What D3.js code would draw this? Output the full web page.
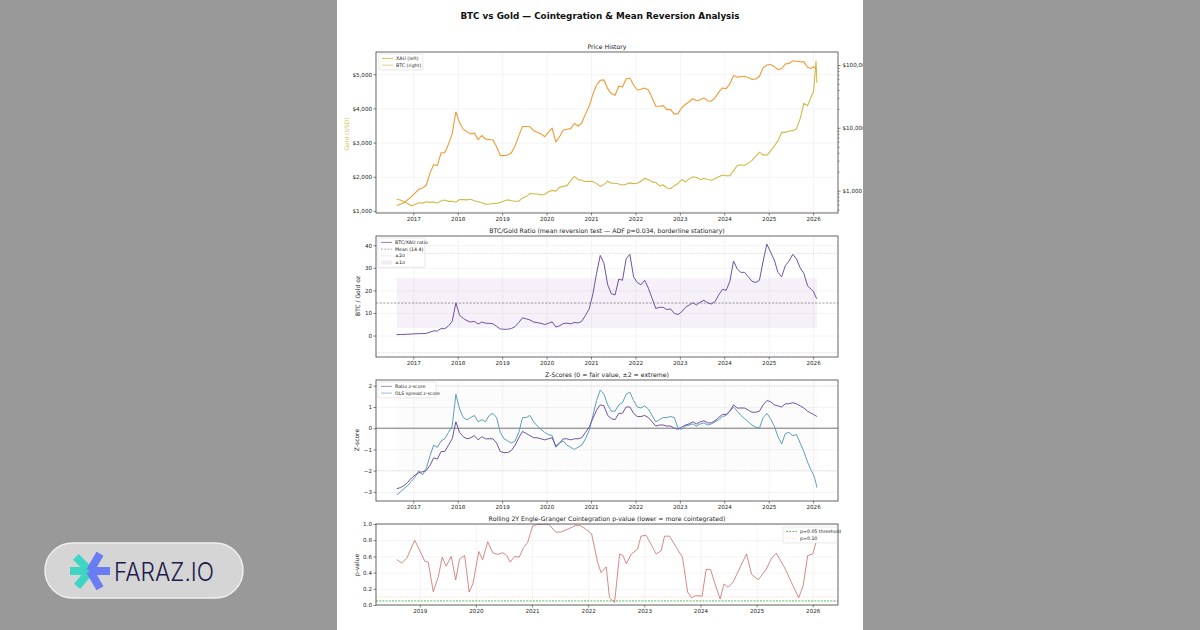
<!DOCTYPE html>
<html>
<head>
<meta charset="utf-8">
<script src="https://cdn.jsdelivr.net/npm/d3@7"></script>
<style>
  body { margin: 0; background: #999; width: 1200px; height: 630px; overflow: hidden; }
  svg { font-family: "DejaVu Sans", sans-serif; }
</style>
</head>
<body>
<svg id="chart" width="1200" height="630"></svg>
<script>
// monthly readings Aug 2016 .. Dec 2025, then a few late-Jan 2026 points
const janX = [2026.01, 2026.04, 2026.065, 2026.085]

const gold = [
  1340, 1320, 1270, 1220, 1150,
  1190, 1240, 1230, 1270, 1250, 1260, 1235, 1290, 1320, 1280, 1285, 1255,
  1335, 1330, 1325, 1340, 1300, 1270, 1240, 1200, 1195, 1220, 1220, 1250,
  1290, 1325, 1300, 1285, 1285, 1380, 1420, 1510, 1505, 1495, 1470, 1480,
  1560, 1600, 1580, 1690, 1720, 1740, 1880, 2010, 1920, 1900, 1860, 1870,
  1860, 1800, 1720, 1770, 1870, 1810, 1810, 1790, 1760, 1780, 1820, 1800,
  1810, 1870, 1950, 1920, 1850, 1830, 1730, 1760, 1670, 1650, 1740, 1800,
  1920, 1850, 1930, 2000, 1980, 1920, 1950, 1920, 1900, 1940, 2000, 2050,
  2030, 2030, 2180, 2330, 2350, 2330, 2400, 2480, 2600, 2720, 2640, 2630,
  2750, 2900, 3050, 3300, 3300, 3340, 3350, 3400, 3700, 4150, 4080, 4350,
  4500, 4950, 5400, 4750
]

const btc = [
  580, 605, 640, 720, 800,
  920, 1050, 1100, 1220, 1900, 2600, 2500, 4000, 4000, 5500, 8000, 18000,
  12000, 9500, 8700, 8000, 8200, 6500, 7500, 6600, 6500, 6400, 5000, 3600,
  3600, 3700, 4000, 5200, 7500, 10500, 10500, 10400, 9000, 8500, 8000, 7200,
  8500, 9800, 6000, 7200, 9200, 9500, 9700, 11700, 10700, 12000, 16500, 22000,
  34000, 48000, 57000, 58000, 42000, 35000, 33000, 46000, 45000, 60000, 62000, 48000,
  40000, 41000, 43000, 40000, 30000, 22000, 22000, 22500, 19500, 19500, 16500, 16800,
  21000, 23500, 26000, 29000, 27000, 28000, 30000, 27000, 26500, 30000, 37000, 43000,
  42000, 50000, 68000, 64000, 65000, 66000, 63000, 59000, 60000, 66000, 90000, 100000,
  102000, 95000, 84000, 88000, 104000, 106000, 117000, 115000, 113000, 112000, 92000, 88000,
  94000, 90000, 88000, 84000
]

const ratio = [
  0.43, 0.46, 0.50, 0.59, 0.70,
  0.77, 0.85, 0.89, 0.96, 1.52, 2.06, 2.02, 3.1, 3.0, 4.3, 6.2, 14.5,
  9.0, 7.6, 6.6, 6.0, 6.3, 5.1, 6.0, 5.5, 5.4, 5.2, 4.1, 2.9,
  2.8, 2.8, 3.1, 4.0, 5.8, 7.9, 7.4, 6.9, 6.0, 5.7, 5.4, 4.9,
  5.4, 6.1, 3.8, 4.3, 5.3, 5.5, 5.2, 5.8, 5.6, 6.3, 8.9, 11.8,
  18.3, 27.5, 35.5, 32.0, 22.5, 18.5, 18.0, 25.0, 24.5, 34.0, 36.0, 26.0,
  23.5, 22.5, 24.5, 21.0, 16.5, 12.0, 12.5, 12.5, 11.5, 11.8, 9.8, 9.3,
  10.5, 12.5, 13.5, 14.5, 13.6, 14.8, 15.6, 14.5, 14.0, 15.0, 18.0, 20.5,
  20.0, 24.0, 33.0, 29.5, 28.0, 28.0, 26.0, 24.0, 23.5, 24.5, 33.0, 40.5,
  37.0, 33.5, 28.0, 26.0, 31.0, 33.0, 36.0, 34.0, 30.0, 27.5, 22.0, 20.5,
  19.5, 18.0, 17.0, 16.3
]
const ratioMean = 14.4
const ratioSd = 11.0

const ratioZ = [
  -2.85, -2.8, -2.7, -2.55, -2.35,
  -2.2, -2.1, -2.05, -2.0, -1.75, -1.4, -1.45, -1.1, -1.1, -0.8, -0.5, 0.3,
  -0.2, -0.4, -0.5, -0.45, -0.35, -0.55, -0.4, -0.5, -0.5, -0.5, -0.7, -1.1,
  -1.15, -1.15, -1.05, -0.8, -0.45, -0.15, -0.25, -0.35, -0.45, -0.45, -0.5, -0.55,
  -0.5, -0.45, -0.85, -0.7, -0.5, -0.5, -0.55, -0.5, -0.5, -0.45, -0.2, 0.05,
  0.45, 0.85, 1.1, 1.05, 0.6, 0.45, 0.4, 0.7, 0.7, 1.0, 1.0, 0.7,
  0.55, 0.55, 0.6, 0.5, 0.3, 0.1, 0.15, 0.15, 0.1, 0.1, 0.0, -0.05,
  0.05, 0.15, 0.2, 0.3, 0.2, 0.3, 0.35, 0.25, 0.25, 0.35, 0.5, 0.65,
  0.65, 0.8, 1.1, 0.95, 0.95, 0.95, 0.85, 0.75, 0.75, 0.8, 1.1, 1.3,
  1.25, 1.1, 1.05, 1.0, 1.15, 1.15, 1.2, 1.15, 1.05, 0.95, 0.8, 0.7,
  0.65, 0.6, 0.58, 0.55
]

const spreadZ = [
  -3.15, -3.0, -2.85, -2.7, -2.5,
  -2.3, -2.0, -2.2, -1.9, -1.3, -0.8, -0.9, -0.6, -0.5, -0.2, 0.1, 1.6,
  0.9, 0.5, 0.4, 0.5, 0.6, 0.3, 0.4, 0.3, 0.6, 0.7, 0.5, -0.2,
  -0.5, -0.6, -0.7, -0.6, -0.2, 0.5, 0.5, 0.6, 0.3, 0.1, -0.05, -0.2,
  -0.3, -0.35, -0.9, -0.7, -0.6, -0.8, -0.9, -1.0, -0.9, -0.8, -0.5, -0.1,
  0.6, 1.3, 1.8, 1.6, 1.1, 0.8, 0.8, 1.1, 1.2, 1.6, 1.7, 1.3,
  1.0, 0.95, 1.05, 0.9, 0.6, 0.3, 0.4, 0.5, 0.5, 0.55, 0.5, 0.0,
  -0.05, 0.1, 0.15, 0.2, 0.1, 0.2, 0.25, 0.15, 0.2, 0.3, 0.4, 0.55,
  0.6, 0.8, 1.0, 0.8, 0.6, 0.45, 0.3, 0.15, 0.05, 0.0, 0.5, 0.7,
  0.45, 0.1, -0.4, -0.75, -0.25, -0.2, -0.35, -0.3, -0.7, -1.1, -1.6, -2.0,
  -2.2, -2.4, -2.6, -2.8
]

// rolling 2y Engle-Granger p-value
const pvX = [
  2018.59, 2018.68, 2018.77, 2018.91,
  2019.09, 2019.15, 2019.24, 2019.33, 2019.40, 2019.47, 2019.56, 2019.64, 2019.71, 2019.80, 2019.88, 2019.95,
  2020.05, 2020.12, 2020.21, 2020.30, 2020.39, 2020.48, 2020.55, 2020.61, 2020.69, 2020.77, 2020.85, 2020.92,
  2021.01, 2021.09, 2021.30, 2021.42, 2021.51, 2021.65, 2021.77, 2021.86, 2021.95,
  2022.06, 2022.17, 2022.23, 2022.32, 2022.38, 2022.44, 2022.47, 2022.56, 2022.62, 2022.68, 2022.77, 2022.88, 2022.94,
  2023.03, 2023.15, 2023.21, 2023.30, 2023.36, 2023.45, 2023.57, 2023.68, 2023.77, 2023.84, 2023.91,
  2024.03, 2024.10, 2024.18, 2024.24, 2024.35, 2024.42, 2024.49, 2024.58, 2024.82, 2024.91,
  2025.03, 2025.17, 2025.26, 2025.35, 2025.50, 2025.62, 2025.75, 2025.83, 2025.91,
  2026.00, 2026.07
]
const pvY = [
  0.56, 0.52, 0.58, 0.80,
  0.54, 0.53, 0.165, 0.35, 0.59, 0.48, 0.60, 0.31, 0.57, 0.61, 0.16, 0.27,
  0.66, 0.56, 0.78, 0.645, 0.625, 0.645, 0.61, 0.53, 0.60, 0.59, 0.71, 0.77,
  0.975, 0.995, 0.995, 0.90, 0.90, 0.94, 0.98, 0.98, 0.94,
  0.88, 0.52, 0.40, 0.47, 0.09, 0.05, 0.03, 0.63, 0.61, 0.51, 0.63, 0.69, 0.85,
  0.86, 0.71, 0.63, 0.67, 0.85, 0.85, 0.71, 0.59, 0.16, 0.09, 0.115,
  0.11, 0.44, 0.44, 0.30, 0.075, 0.26, 0.22, 0.28, 0.63, 0.38,
  0.31, 0.44, 0.57, 0.64, 0.46, 0.28, 0.09, 0.24, 0.61,
  0.63, 0.80
]

const years = d3.range(2017, 2027)
const pvYears = d3.range(2019, 2027)
const goldTicks = [1000, 2000, 3000, 4000, 5000]
const btcTicks = [1000, 10000, 100000]
const ratioTicks = [0, 10, 20, 30, 40]
const zTicks = [-3, -2, -1, 0, 1, 2]
const pTicks = [0, 0.2, 0.4, 0.6, 0.8, 1.0]

// month centres for the monthly readings
const xs = d3.range(113).map(i => 2016 + (7.5 + i) / 12).concat(janX)

const L = 376, R = 838
const svg = d3.select("#chart")
svg.append("rect").attr("width", 1200).attr("height", 630).attr("fill", "#999")

svg.append("clipPath").attr("id", "figclip")
  .append("rect").attr("x", 337).attr("y", 0).attr("width", 526).attr("height", 630)
const fig = svg.append("g").attr("clip-path", "url(#figclip)")
fig.append("rect").attr("x", 337).attr("y", 0).attr("width", 526).attr("height", 630).attr("fill", "#fff")

fig.append("text").attr("x", 600).attr("y", 19).attr("text-anchor", "middle")
  .attr("font-size", 8.8).attr("font-weight", "bold").attr("fill", "#111")
  .text("BTC vs Gold \u2014 Cointegration & Mean Reversion Analysis")

function styleAxis(s) {
  s.select(".domain").remove()
  s.selectAll("line").attr("stroke", "#333").attr("stroke-width", 0.6)
  s.selectAll("text").attr("font-size", 5.6).attr("fill", "#222").attr("font-family", "DejaVu Sans")
}

function grid(g, x, y, top, bottom, xt, yt) {
  g.append("g").attr("transform", `translate(0,${bottom})`)
    .call(d3.axisBottom(x).tickValues(xt).tickSize(-(bottom - top)).tickFormat(""))
    .call(s => { s.select(".domain").remove(); s.selectAll("line").attr("stroke", "#ececec").attr("stroke-width", 0.6) })
  g.append("g").attr("transform", `translate(${L},0)`)
    .call(d3.axisLeft(y).tickValues(yt).tickSize(-(R - L)).tickFormat(""))
    .call(s => { s.select(".domain").remove(); s.selectAll("line").attr("stroke", "#ececec").attr("stroke-width", 0.6) })
}

function frame(g, x, y, top, bottom, xt, yt, yfmt, title) {
  g.append("rect").attr("x", L).attr("y", top).attr("width", R - L).attr("height", bottom - top)
    .attr("fill", "none").attr("stroke", "#555").attr("stroke-width", 0.9)
  g.append("g").attr("transform", `translate(0,${bottom})`)
    .call(d3.axisBottom(x).tickValues(xt).tickSize(2.5).tickPadding(2).tickFormat(d3.format("d")))
    .call(styleAxis)
  g.append("g").attr("transform", `translate(${L},0)`)
    .call(d3.axisLeft(y).tickValues(yt).tickSize(2.5).tickPadding(1.5).tickFormat(yfmt))
    .call(styleAxis)
  g.append("text").attr("x", (L + R) / 2).attr("y", top - 3).attr("text-anchor", "middle")
    .attr("font-size", 6.2).attr("fill", "#222").text(title)
}

function yLabel(g, x, y, text, color) {
  g.append("text").attr("transform", `translate(${x},${y}) rotate(-90)`).attr("text-anchor", "middle")
    .attr("font-size", 6).attr("fill", color || "#222").text(text)
}

function legend(g, x0, y0, w, items) {
  const rowH = 6.7
  g.append("rect").attr("x", x0).attr("y", y0).attr("width", w).attr("height", items.length * rowH + 2.5)
    .attr("fill", "#fff").attr("fill-opacity", 0.85).attr("stroke", "#d0d0d0").attr("stroke-width", 0.5).attr("rx", 1)
  items.forEach((it, i) => {
    const cy = y0 + 4.4 + i * rowH
    if (it.patch) {
      g.append("rect").attr("x", x0 + 3).attr("y", cy - 2).attr("width", 11).attr("height", 4)
        .attr("fill", it.color).attr("fill-opacity", it.opacity || 1)
    } else {
      g.append("line").attr("x1", x0 + 3).attr("x2", x0 + 14).attr("y1", cy).attr("y2", cy)
        .attr("stroke", it.color).attr("stroke-width", it.width || 0.9)
        .attr("stroke-dasharray", it.dash || null).attr("stroke-opacity", it.opacity || 1)
    }
    g.append("text").attr("x", x0 + 17).attr("y", cy + 1.6).attr("font-size", 4.7).attr("fill", "#222").text(it.label)
  })
}

// ---------- panel 1: price history ----------
const x = d3.scaleLinear().domain([2016.16, 2026.56]).range([L, R])
const p1 = { top: 52, bottom: 213 }
const yGold = d3.scaleLinear().domain([940, 5650]).range([p1.bottom, p1.top])
const yBtc = d3.scaleLog().domain([440, 161000]).range([p1.bottom, p1.top])
const g1 = fig.append("g")
grid(g1, x, yGold, p1.top, p1.bottom, years, goldTicks)

g1.append("path").datum(btc)
  .attr("d", d3.line().x((d, i) => x(xs[i])).y(d => yBtc(d)))
  .attr("fill", "none").attr("stroke", "#eb9020").attr("stroke-width", 1.1).attr("stroke-opacity", 0.9)
g1.append("path").datum(gold)
  .attr("d", d3.line().x((d, i) => x(xs[i])).y(d => yGold(d)))
  .attr("fill", "none").attr("stroke", "#cfb53b").attr("stroke-width", 1.1).attr("stroke-opacity", 0.95)

frame(g1, x, yGold, p1.top, p1.bottom, years, goldTicks, d => "$" + d3.format(",")(d), "Price History")
g1.append("g").attr("transform", `translate(${R},0)`)
  .call(d3.axisRight(yBtc).tickValues(btcTicks).tickSize(2.5).tickPadding(2).tickFormat(d => "$" + d3.format(",")(d)))
  .call(styleAxis)
const minor = []
;[100, 1000, 10000, 100000].forEach(k => d3.range(2, 10).forEach(m => { if (k * m > 440 && k * m < 161000) minor.push(k * m) }))
g1.append("g").attr("transform", `translate(${R},0)`)
  .call(d3.axisRight(yBtc).tickValues(minor).tickSize(1.4).tickFormat(""))
  .call(styleAxis)
yLabel(g1, 349, 134, "Gold (USD)", "#d8c060")
legend(g1, 379, 54, 44, [
  { label: "XAU (left)", color: "#cfb53b" },
  { label: "BTC (right)", color: "#f0b060", opacity: 0.8 }
])

// ---------- panel 2: ratio ----------
const p2 = { top: 236, bottom: 357 }
const yRatio = d3.scaleLinear().domain([-9.5, 44.1]).range([p2.bottom, p2.top])
const g2 = fig.append("g")
grid(g2, x, yRatio, p2.top, p2.bottom, years, ratioTicks)
g2.append("path").datum(xs)
  .attr("d", d3.area().x(d => x(d)).y0(yRatio(ratioMean - ratioSd)).y1(yRatio(ratioMean + ratioSd)))
  .attr("fill", "#9b59b6").attr("fill-opacity", 0.09)
;[ratioMean + 2 * ratioSd, ratioMean - 2 * ratioSd].forEach(v => {
  g2.append("line").attr("x1", L).attr("x2", R).attr("y1", yRatio(v)).attr("y2", yRatio(v))
    .attr("stroke", "#c4c4c4").attr("stroke-width", 0.7).attr("stroke-dasharray", "1,1.3")
})
g2.append("line").attr("x1", L).attr("x2", R).attr("y1", yRatio(ratioMean)).attr("y2", yRatio(ratioMean))
  .attr("stroke", "#777").attr("stroke-width", 0.7).attr("stroke-dasharray", "2.2,1.4")
g2.append("path").datum(ratio)
  .attr("d", d3.line().x((d, i) => x(xs[i])).y(d => yRatio(d)))
  .attr("fill", "none").attr("stroke", "#6e52a3").attr("stroke-width", 1)
frame(g2, x, yRatio, p2.top, p2.bottom, years, ratioTicks, d3.format("d"),
  "BTC/Gold Ratio (mean reversion test \u2014 ADF p=0.034, borderline stationary)")
yLabel(g2, 360, 296, "BTC / Gold oz")
legend(g2, 378, 238, 47, [
  { label: "BTC/XAU ratio", color: "#8a70b8" },
  { label: "Mean (14.4)", color: "#888", dash: "2,1.2", width: 0.7 },
  { label: "\u00b12\u03c3", color: "#c4c4c4", dash: "1,1.2", width: 0.7 },
  { label: "\u00b11\u03c3", color: "#9b59b6", patch: true, opacity: 0.12 }
])

// ---------- panel 3: z-scores ----------
const p3 = { top: 380, bottom: 501 }
const yZ = d3.scaleLinear().domain([-3.43, 2.27]).range([p3.bottom, p3.top])
const g3 = fig.append("g")
grid(g3, x, yZ, p3.top, p3.bottom, years, zTicks)
g3.append("path").datum(xs)
  .attr("d", d3.area().x(d => x(d)).y0(yZ(-2)).y1(yZ(2)))
  .attr("fill", "#888").attr("fill-opacity", 0.025)
;[2, -2].forEach(v => {
  g3.append("line").attr("x1", L).attr("x2", R).attr("y1", yZ(v)).attr("y2", yZ(v))
    .attr("stroke", "#c8c8c8").attr("stroke-width", 0.7).attr("stroke-dasharray", "1,1.3")
})
g3.append("line").attr("x1", L).attr("x2", R).attr("y1", yZ(0)).attr("y2", yZ(0))
  .attr("stroke", "#555").attr("stroke-width", 0.8)
g3.append("path").datum(spreadZ)
  .attr("d", d3.line().x((d, i) => x(xs[i])).y(d => yZ(d)))
  .attr("fill", "none").attr("stroke", "#5c9fb8").attr("stroke-width", 1)
g3.append("path").datum(ratioZ)
  .attr("d", d3.line().x((d, i) => x(xs[i])).y(d => yZ(d)))
  .attr("fill", "none").attr("stroke", "#6e52a3").attr("stroke-width", 1)
frame(g3, x, yZ, p3.top, p3.bottom, years, zTicks, d3.format("d"), "Z-Scores (0 = fair value, \u00b12 = extreme)")
yLabel(g3, 359, 440, "Z-score")
legend(g3, 378, 382, 58, [
  { label: "Ratio z-score", color: "#9a86b8" },
  { label: "OLS spread z-score", color: "#8ab8c8" }
])

// ---------- panel 4: rolling p-value ----------
const p4 = { top: 524, bottom: 605 }
const xP = d3.scaleLinear().domain([2018.22, 2026.45]).range([L, R])
const yP = d3.scaleLinear().domain([0, 1]).range([p4.bottom, p4.top])
const g4 = fig.append("g")
grid(g4, xP, yP, p4.top, p4.bottom, pvYears, pTicks)
g4.append("line").attr("x1", L).attr("x2", R).attr("y1", yP(0.10)).attr("y2", yP(0.10))
  .attr("stroke", "#f2c9a0").attr("stroke-width", 0.7).attr("stroke-dasharray", "1,1.2")
g4.append("line").attr("x1", L).attr("x2", R).attr("y1", yP(0.05)).attr("y2", yP(0.05))
  .attr("stroke", "#2ca02c").attr("stroke-width", 0.8).attr("stroke-dasharray", "2,1.2")
g4.append("path").datum(pvY)
  .attr("d", d3.line().x((d, i) => xP(pvX[i])).y(d => yP(d)))
  .attr("fill", "none").attr("stroke", "#c0504d").attr("stroke-width", 0.9).attr("stroke-opacity", 0.75)
frame(g4, xP, yP, p4.top, p4.bottom, pvYears, pTicks, d3.format(".1f"),
  "Rolling 2Y Engle-Granger Cointegration p-value (lower = more cointegrated)")
yLabel(g4, 359, 565, "p-value")
legend(g4, 783, 527, 54, [
  { label: "p=0.05 threshold", color: "#2ca02c", dash: "2,1.2", width: 0.8 },
  { label: "p=0.10", color: "#f2c9a0", dash: "1,1.2", width: 0.8 }
])

// ---------- watermark badge ----------
const badge = svg.append("g")
badge.append("rect").attr("x", 45).attr("y", 543).attr("width", 198).attr("height", 55).attr("rx", 27.5)
  .attr("fill", "#d5d5d5").attr("stroke", "#eeeeee").attr("stroke-width", 1.5)
const spokes = [
  { a: 180, c: "#3ed6c3" }, { a: 225, c: "#3ed6c3" }, { a: 130, c: "#3ed6c3" },
  { a: 0, c: "#6a7cf3" }, { a: 300, c: "#6a7cf3" }, { a: 60, c: "#6a7cf3" }
]
spokes.forEach(s => {
  badge.append("rect").attr("x", 0).attr("y", -4).attr("width", 20).attr("height", 8)
    .attr("fill", s.c).attr("transform", `translate(90,571) rotate(${s.a})`)
})
badge.append("text").attr("x", 114).attr("y", 580.5).attr("font-family", "Inter, sans-serif")
  .attr("font-size", 25).attr("font-weight", 300).attr("fill", "#1d1b4c")
  .attr("textLength", 100).attr("lengthAdjust", "spacingAndGlyphs").text("FARAZ.IO")
</script>
</body>
</html>
